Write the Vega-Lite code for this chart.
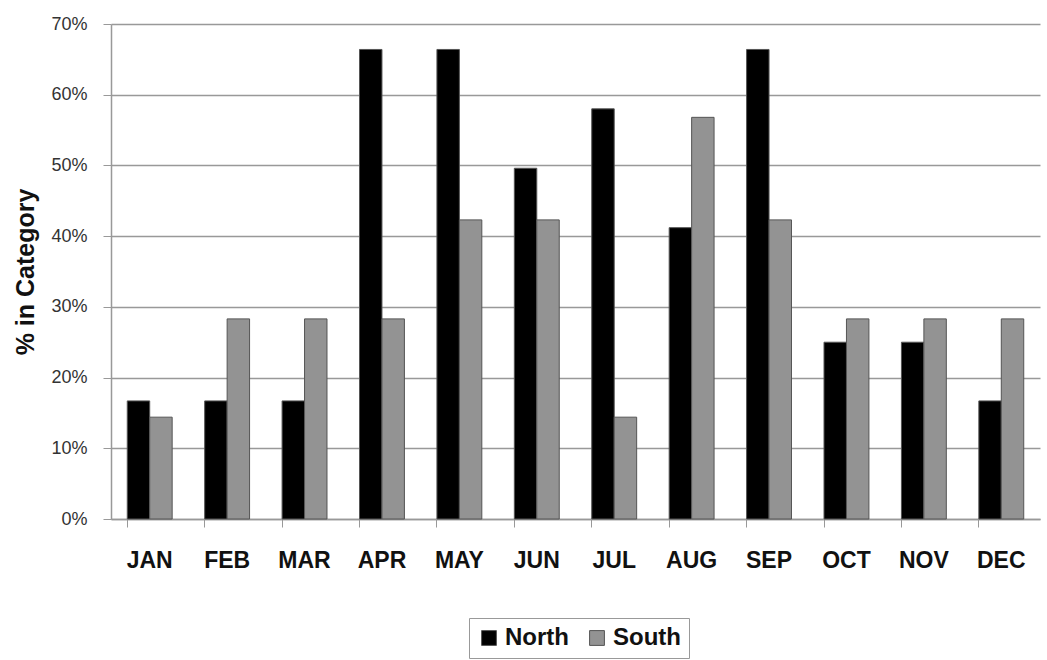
{
  "$schema": "https://vega.github.io/schema/vega-lite/v6.json",
  "width": 929,
  "height": 495,
  "autosize": {"type": "none"},
  "padding": {"left": 111, "top": 24, "right": 7, "bottom": 141},
  "background": "white",
  "config": {
    "view": {"stroke": null},
    "font": "Liberation Sans"
  },
  "data": {
    "values": [
      {"month": "JAN", "region": "North", "share": 0.167},
      {"month": "JAN", "region": "South", "share": 0.144},
      {"month": "FEB", "region": "North", "share": 0.167},
      {"month": "FEB", "region": "South", "share": 0.283},
      {"month": "MAR", "region": "North", "share": 0.167},
      {"month": "MAR", "region": "South", "share": 0.283},
      {"month": "APR", "region": "North", "share": 0.664},
      {"month": "APR", "region": "South", "share": 0.283},
      {"month": "MAY", "region": "North", "share": 0.664},
      {"month": "MAY", "region": "South", "share": 0.423},
      {"month": "JUN", "region": "North", "share": 0.496},
      {"month": "JUN", "region": "South", "share": 0.423},
      {"month": "JUL", "region": "North", "share": 0.58},
      {"month": "JUL", "region": "South", "share": 0.144},
      {"month": "AUG", "region": "North", "share": 0.412},
      {"month": "AUG", "region": "South", "share": 0.568},
      {"month": "SEP", "region": "North", "share": 0.664},
      {"month": "SEP", "region": "South", "share": 0.423},
      {"month": "OCT", "region": "North", "share": 0.25},
      {"month": "OCT", "region": "South", "share": 0.283},
      {"month": "NOV", "region": "North", "share": 0.25},
      {"month": "NOV", "region": "South", "share": 0.283},
      {"month": "DEC", "region": "North", "share": 0.167},
      {"month": "DEC", "region": "South", "share": 0.283}
    ]
  },
  "mark": {"type": "bar", "stroke": "#555", "strokeWidth": 1},
  "encoding": {
    "x": {
      "field": "month",
      "type": "nominal",
      "sort": null,
      "title": null,
      "scale": {"paddingInner": 0.42, "paddingOuter": 0.21},
      "axis": {
        "labelAngle": 0,
        "labelFont": "Liberation Sans",
        "labelFontSize": 23,
        "labelFontWeight": "bold",
        "labelColor": "#111",
        "labelPadding": 22,
        "bandPosition": 0,
        "tickSize": 8,
        "tickColor": "#999",
        "domainColor": "#999",
        "domainWidth": 1.5,
        "grid": false
      }
    },
    "xOffset": {"field": "region", "type": "nominal"},
    "y": {
      "field": "share",
      "type": "quantitative",
      "title": "% in Category",
      "scale": {"domain": [0, 0.7], "nice": false},
      "axis": {
        "format": ".0%",
        "values": [0, 0.1, 0.2, 0.3, 0.4, 0.5, 0.6, 0.7],
        "labelFont": "Liberation Sans",
        "labelFontSize": 18,
        "labelColor": "#333",
        "labelPadding": 16,
        "tickSize": 8,
        "tickColor": "#999",
        "domainColor": "#999",
        "domainWidth": 1.5,
        "gridColor": "#999",
        "gridWidth": 1.5,
        "titleFont": "Liberation Sans",
        "titleFontSize": 25,
        "titleFontWeight": "bold",
        "titleColor": "#111",
        "titlePadding": 12
      }
    },
    "color": {
      "field": "region",
      "type": "nominal",
      "scale": {"domain": ["North", "South"], "range": ["#000000", "#939393"]},
      "legend": {
        "title": null,
        "orient": "none",
        "legendX": 358,
        "legendY": 594,
        "direction": "horizontal",
        "symbolType": "square",
        "symbolSize": 220,
        "symbolStrokeColor": "#555",
        "symbolStrokeWidth": 1,
        "labelFont": "Liberation Sans",
        "labelFontSize": 24,
        "labelFontWeight": "bold",
        "labelColor": "#111",
        "columnPadding": 16,
        "strokeColor": "#999",
        "fillColor": "white",
        "padding": 8
      }
    }
  }
}
